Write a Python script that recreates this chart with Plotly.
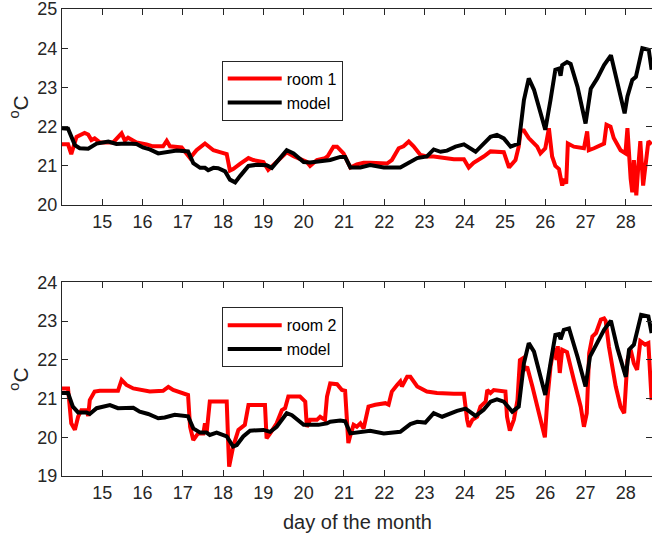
import plotly.graph_objects as go

# ---------------- data ----------------
x_ticks = list(range(15, 29))
top_y_ticks = [20, 21, 22, 23, 24, 25]
bot_y_ticks = [19, 20, 21, 22, 23, 24]

room1_day = [14.0, 14.15, 14.23, 14.36, 14.56, 14.65, 14.73, 14.81, 14.94, 15.27, 15.48, 15.56,
             15.64, 15.85, 16.1, 16.26, 16.51, 16.6, 16.68, 16.97, 17.18, 17.34, 17.55, 17.63,
             17.76, 17.92, 18.09, 18.17, 18.25, 18.42, 18.63, 18.75, 19.0, 19.12, 19.33, 19.58,
             19.75, 20.08, 20.16, 20.33, 20.53, 20.6, 20.74, 20.83, 20.99, 21.07, 21.16, 21.32,
             21.49, 21.65, 22.07, 22.19, 22.36, 22.48, 22.61, 22.73, 22.9, 23.06, 23.23, 23.73,
             23.98, 24.1, 24.22, 24.47, 24.64, 24.97, 25.1, 25.26, 25.34, 25.39, 25.47, 25.59,
             25.8, 25.88, 26.0, 26.09, 26.17, 26.25, 26.34, 26.42, 26.46, 26.52, 26.56, 26.71,
             26.96, 27.04, 27.08, 27.21, 27.46, 27.52, 27.62, 27.7, 27.87, 27.99, 28.04, 28.12,
             28.16, 28.2, 28.26, 28.31, 28.36, 28.43, 28.48, 28.56, 28.64]
room1_temp = [21.55, 21.55, 21.3, 21.74, 21.84, 21.8, 21.66, 21.7, 21.6, 21.6, 21.83, 21.65,
              21.72, 21.6, 21.55, 21.5, 21.5, 21.64, 21.5, 21.47, 21.2, 21.4, 21.57, 21.5,
              21.4, 21.35, 21.3, 20.88, 20.92, 21.05, 21.2, 21.15, 21.1, 20.9, 21.1, 21.35,
              21.25, 21.1, 21.0, 21.15, 21.2, 21.25, 21.49, 21.49, 21.32, 21.15, 20.96, 21.04,
              21.08, 21.08, 21.06, 21.15, 21.45, 21.5, 21.62, 21.5, 21.28, 21.24, 21.24, 21.17,
              21.17, 20.96, 21.08, 21.24, 21.37, 21.35, 20.96, 21.15, 21.49, 21.9, 21.9, 21.71,
              21.49, 21.32, 21.45, 21.96, 21.24, 21.0, 20.92, 20.5, 20.67, 20.55, 21.57, 21.49,
              21.45, 21.88, 21.4, 21.45, 21.57, 22.05, 22.0, 21.71, 21.4, 21.32, 21.96, 20.67,
              20.33, 21.15, 20.25, 20.99, 21.63, 20.5, 20.92, 21.63, 21.55]

model1_day = [14.0, 14.15, 14.32, 14.44, 14.65, 14.86, 15.15, 15.35, 15.6, 15.85, 16.01, 16.18,
              16.39, 16.55, 16.85, 17.13, 17.26, 17.43, 17.55, 17.63, 17.76, 17.88, 18.05, 18.17,
              18.3, 18.42, 18.63, 18.84, 19.08, 19.21, 19.37, 19.58, 19.75, 20.0, 20.16, 20.41,
              20.66, 20.91, 21.03, 21.16, 21.41, 21.65, 21.99, 22.4, 22.65, 22.82, 23.06, 23.23,
              23.4, 23.56, 23.77, 23.98, 24.27, 24.47, 24.64, 24.8, 24.97, 25.14, 25.34, 25.47,
              25.59, 25.72, 25.88, 26.0, 26.13, 26.25, 26.34, 26.38, 26.42, 26.54, 26.63, 26.8,
              27.0, 27.13, 27.29, 27.46, 27.63, 27.79, 27.97, 28.04, 28.16, 28.25, 28.41, 28.57,
              28.64]
model1_temp = [21.96, 21.95, 21.53, 21.45, 21.44, 21.57, 21.62, 21.56, 21.57, 21.56, 21.47, 21.42,
               21.32, 21.34, 21.39, 21.37, 21.07, 20.95, 20.95, 20.89, 20.95, 20.94, 20.86, 20.65,
               20.58, 20.74, 21.0, 21.03, 21.02, 20.95, 21.15, 21.4, 21.32, 21.1, 21.09, 21.12,
               21.15, 21.23, 21.23, 20.96, 20.96, 21.02, 20.96, 20.96, 21.12, 21.2, 21.24, 21.42,
               21.36, 21.39, 21.49, 21.55, 21.36, 21.57, 21.74, 21.79, 21.7, 21.49, 21.57, 22.68,
               23.23, 22.94, 22.3, 21.92, 22.68, 23.45, 23.48, 23.3, 23.57, 23.65, 23.6, 23.02,
               22.08, 22.97, 23.23, 23.57, 23.82, 23.1, 22.34, 22.77, 23.19, 23.27, 24.0, 23.96,
               23.45]

room2_day = [14.0, 14.15, 14.23, 14.32, 14.4, 14.48, 14.61, 14.65, 14.69, 14.81, 14.94, 15.39,
             15.48, 15.6, 15.77, 15.93, 16.18, 16.51, 16.64, 16.76, 16.97, 17.13, 17.18, 17.26,
             17.38, 17.51, 17.55, 17.59, 17.67, 18.09, 18.13, 18.15, 18.25, 18.38, 18.54, 18.63,
             19.04, 19.08, 19.17, 19.33, 19.46, 19.54, 19.62, 19.91, 20.04, 20.08, 20.16, 20.33,
             20.41, 20.5, 20.53, 20.58, 20.66, 20.83, 20.95, 21.03, 21.07, 21.11, 21.16, 21.24,
             21.32, 21.41, 21.49, 21.61, 21.78, 22.03, 22.11, 22.19, 22.32, 22.4, 22.44, 22.57,
             22.65, 22.82, 23.06, 23.31, 23.73, 23.98, 24.06, 24.1, 24.19, 24.31, 24.39, 24.52,
             24.56, 24.64, 24.72, 25.01, 25.05, 25.12, 25.22, 25.31, 25.37, 25.43, 25.47, 25.55,
             25.68, 25.8, 25.93, 25.99, 26.05, 26.13, 26.21, 26.28, 26.31, 26.36, 26.42, 26.54,
             26.71, 26.88, 26.96, 27.03, 27.09, 27.17, 27.26, 27.38, 27.46, 27.5, 27.58, 27.67,
             27.75, 27.87, 27.96, 28.04, 28.12, 28.2, 28.28, 28.36, 28.48, 28.56, 28.64]
room2_temp = [21.26, 21.26, 20.36, 20.19, 20.53, 20.7, 20.7, 20.55, 20.96, 21.18, 21.2, 21.2,
              21.48, 21.35, 21.26, 21.22, 21.18, 21.2, 21.3, 21.22, 21.15, 21.09, 20.27, 19.93,
              20.1, 20.1, 20.36, 20.1, 20.92, 20.92, 19.76, 19.24, 19.76, 20.19, 20.32, 20.83,
              20.83, 19.97, 20.1, 20.36, 20.7, 20.75, 21.05, 21.05, 20.92, 20.27, 20.45, 20.45,
              20.53, 20.45, 20.45, 21.05, 21.39, 21.37, 21.22, 21.2, 20.27, 19.85, 20.05, 20.32,
              20.27, 20.36, 20.23, 20.79, 20.84, 20.88, 20.84, 21.18, 21.35, 21.44, 21.31, 21.56,
              21.56, 21.31, 21.18, 21.14, 21.12, 21.12, 20.45, 20.27, 20.45, 20.53, 20.79, 20.92,
              21.22, 21.14, 21.22, 21.18, 20.53, 20.17, 20.45, 20.96, 21.99, 22.03, 21.73, 21.82,
              21.31, 20.79, 20.27, 20.0, 20.96, 21.82, 22.3, 22.0, 22.35, 21.66, 22.26, 22.2,
              21.48, 20.79, 20.27, 20.62, 22.17, 22.6, 22.69, 23.04, 23.07, 23.0, 22.34, 21.74,
              21.31, 20.79, 20.62, 21.99, 22.26, 21.91, 21.74, 22.48, 22.39, 22.43, 20.96]

model2_day = [14.0, 14.15, 14.27, 14.4, 14.61, 14.69, 14.86, 15.19, 15.39, 15.77, 15.93, 16.14,
              16.39, 16.55, 16.8, 17.13, 17.26, 17.43, 17.59, 17.67, 17.84, 18.09, 18.25, 18.34,
              18.5, 18.67, 19.0, 19.17, 19.33, 19.58, 19.71, 20.0, 20.12, 20.37, 20.58, 20.66,
              20.91, 21.03, 21.16, 21.41, 21.65, 21.99, 22.4, 22.65, 22.82, 23.02, 23.23, 23.44,
              23.6, 23.81, 24.02, 24.27, 24.47, 24.64, 24.8, 24.97, 25.18, 25.34, 25.47, 25.59,
              25.72, 25.88, 26.0, 26.13, 26.25, 26.34, 26.38, 26.46, 26.59, 26.8, 27.0, 27.11,
              27.29, 27.46, 27.63, 27.79, 28.0, 28.08, 28.2, 28.38, 28.56, 28.64]
model2_temp = [21.14, 21.14, 20.79, 20.64, 20.64, 20.6, 20.75, 20.83, 20.75, 20.76, 20.66, 20.6,
               20.49, 20.51, 20.58, 20.54, 20.23, 20.12, 20.12, 20.06, 20.12, 20.02, 19.76, 19.8,
               20.02, 20.17, 20.19, 20.14, 20.27, 20.62, 20.57, 20.32, 20.32, 20.32, 20.36, 20.4,
               20.43, 20.41, 20.1, 20.14, 20.17, 20.1, 20.14, 20.34, 20.4, 20.38, 20.62, 20.53,
               20.6, 20.68, 20.74, 20.55, 20.71, 20.92, 20.98, 20.92, 20.66, 20.79, 21.91, 22.43,
               22.21, 21.56, 21.09, 21.91, 22.64, 22.66, 22.53, 22.77, 22.81, 22.08, 21.31, 22.08,
               22.43, 22.77, 23.01, 22.3, 21.56, 22.26, 22.39, 23.16, 23.12, 22.69]

# ---------------- figure ----------------
RED = "#FF0000"
BLACK = "#000000"
AX = "#262626"
FONT = "Liberation Sans, Arial, Helvetica, sans-serif"

fig = go.Figure()
fig.add_trace(go.Scatter(x=room1_day, y=room1_temp, mode="lines", name="room 1",
                         line=dict(color=RED, width=4), xaxis="x", yaxis="y", legend="legend"))
fig.add_trace(go.Scatter(x=model1_day, y=model1_temp, mode="lines", name="model",
                         line=dict(color=BLACK, width=4), xaxis="x", yaxis="y", legend="legend"))
fig.add_trace(go.Scatter(x=room2_day, y=room2_temp, mode="lines", name="room 2",
                         line=dict(color=RED, width=4), xaxis="x2", yaxis="y2", legend="legend2"))
fig.add_trace(go.Scatter(x=model2_day, y=model2_temp, mode="lines", name="model",
                         line=dict(color=BLACK, width=4), xaxis="x2", yaxis="y2", legend="legend2"))

axis_common = dict(showgrid=False, zeroline=False, showline=True, linecolor=AX, linewidth=1,
                   mirror="allticks", ticks="inside", ticklen=6, tickcolor=AX, tickwidth=1,
                   ticklabeloverflow="allow",
                   tickfont=dict(family=FONT, size=18, color=AX))

legend_common = dict(xanchor="left", yanchor="top", bgcolor="white", bordercolor=AX,
                     borderwidth=1, font=dict(family=FONT, size=16, color="#000000"),
                     tracegroupgap=0, itemwidth=54)

fig.update_layout(
    width=652, height=539,
    paper_bgcolor="white", plot_bgcolor="white",
    margin=dict(l=62, r=0, t=9, b=63),
    font=dict(family=FONT, color=AX),
    xaxis=dict(domain=[0, 1], anchor="y", range=[14, 28.65], tickvals=x_ticks, **axis_common),
    yaxis=dict(domain=[0.580, 1], anchor="x", range=[20, 25], tickvals=top_y_ticks, **axis_common),
    xaxis2=dict(domain=[0, 1], anchor="y2", range=[14, 28.65], tickvals=x_ticks, **axis_common),
    yaxis2=dict(domain=[0, 0.4148], anchor="x2", range=[19, 24], tickvals=bot_y_ticks, **axis_common),
    legend=dict(x=0.2707, y=0.8893, **legend_common),
    legend2=dict(x=0.2707, y=0.3612, **legend_common),
    annotations=[
        dict(text="<sup>o</sup>C", x=-0.072, y=0.79, xref="paper", yref="paper", textangle=-90,
             showarrow=False, font=dict(family=FONT, size=21, color=AX),
             xanchor="center", yanchor="middle"),
        dict(text="<sup>o</sup>C", x=-0.072, y=0.2074, xref="paper", yref="paper", textangle=-90,
             showarrow=False, font=dict(family=FONT, size=21, color=AX),
             xanchor="center", yanchor="middle"),
        dict(text="day of the month", x=0.5, y=-0.0985, xref="paper", yref="paper",
             showarrow=False, font=dict(family=FONT, size=20, color=AX),
             xanchor="center", yanchor="middle"),
    ],
)

fig.write_html("out.html", config={"displayModeBar": False},
               post_script="document.body.style.margin='0';")
